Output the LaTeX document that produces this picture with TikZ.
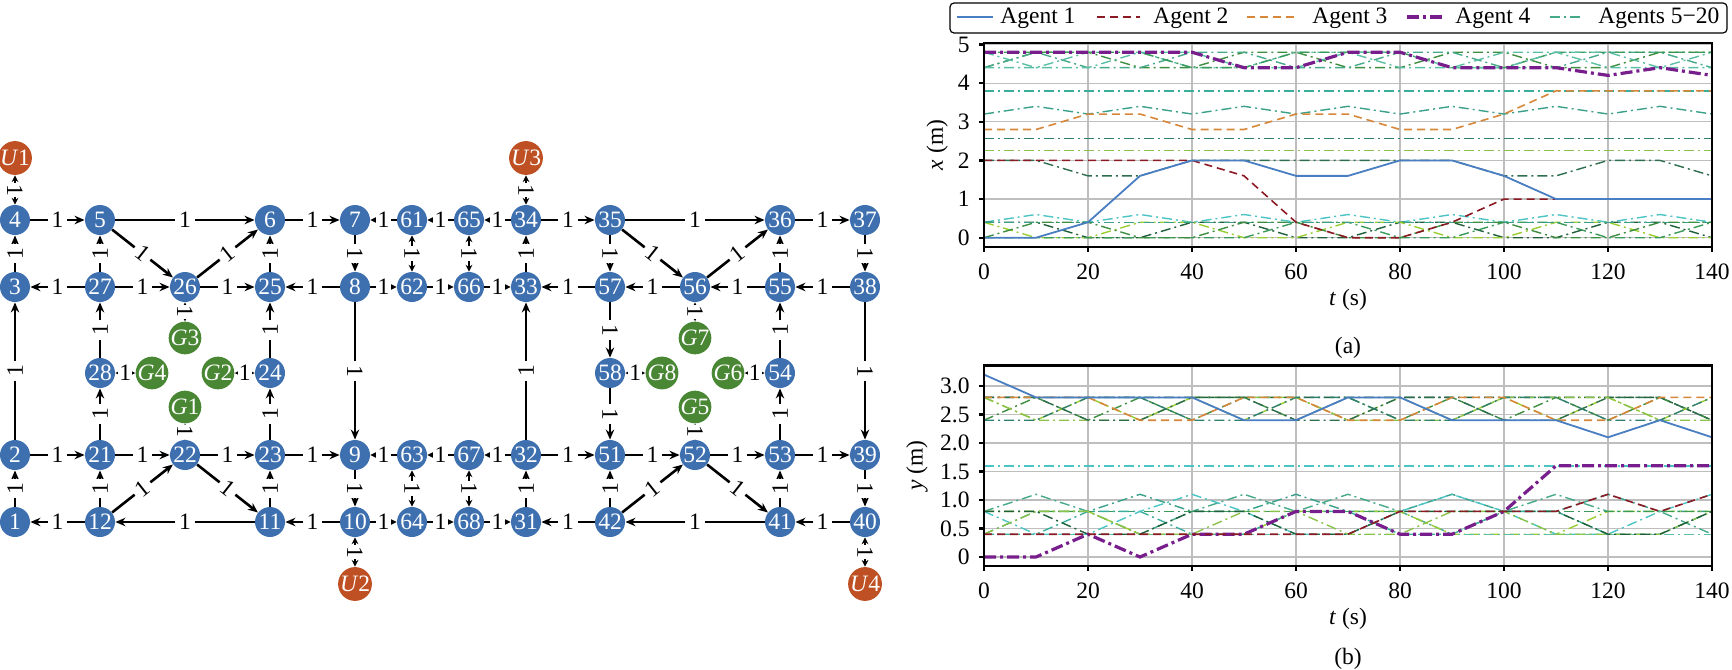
\documentclass[tikz,border=0pt]{standalone}
\usepackage{fontspec}
\setmainfont{Liberation Serif}
\usetikzlibrary{arrows.meta}

\definecolor{cellblue}{RGB}{62,112,176}
\definecolor{goalgreen}{RGB}{74,135,52}
\definecolor{doorred}{RGB}{190,80,35}
\definecolor{ag1}{RGB}{74,126,194}
\definecolor{ag2}{RGB}{140,26,36}
\definecolor{ag3}{RGB}{214,135,58}
\definecolor{ag4}{RGB}{120,30,140}
\definecolor{gA}{RGB}{62,142,65}
\definecolor{gB}{RGB}{69,169,138}
\definecolor{gC}{RGB}{91,191,166}
\definecolor{gD}{RGB}{76,196,196}
\definecolor{gE}{RGB}{31,95,58}
\definecolor{gF}{RGB}{154,205,50}
\definecolor{gG}{RGB}{58,154,90}
\definecolor{gH}{RGB}{58,160,138}
\definecolor{gI}{RGB}{58,174,154}
\definecolor{gK}{RGB}{47,127,111}
\definecolor{gL}{RGB}{139,195,74}
\definecolor{gM}{RGB}{46,110,78}
\definecolor{gridgray}{RGB}{190,190,190}

% one agent over time, a value every 10 s
\newcommand\agenttrace[3]{\draw[#1] (0,#2) \foreach \v [count=\i] in {#3} { -- (10*\i,\v)};}

\begin{document}
\begin{tikzpicture}[x=0.5pt,y=-0.5pt,font=\fontsize{11.75}{14}\selectfont,
	cell/.style = {circle, fill=cellblue, text=white, minimum size=15pt, inner sep=0pt},
	goal/.style = {cell, fill=goalgreen},
	door/.style = {cell, fill=doorred},
	road/.style = {line width=1.3pt, -{Stealth[length=5pt,width=4.2pt]}},
	lane/.style = {line width=1.3pt, -{Stealth[length=3.4pt,width=3.4pt]}},
	twoway/.style = {line width=1.3pt, {Stealth[length=3.4pt,width=3.4pt]}-{Stealth[length=3.4pt,width=3.4pt]}},
	cost/.style = {midway, sloped, fill=white, inner sep=2pt},
	tight/.style = {cost, inner sep=0.6pt},
	gridline/.style = {gridgray, line width=0.6pt},
	frame/.style = {black, line width=1.1pt},
	a1/.style = {ag1, line width=0.9pt, line join=round},
	a2/.style = {ag2, line width=0.8pt, dash pattern=on 4pt off 2.5pt},
	a3/.style = {ag3, line width=0.8pt, dash pattern=on 4pt off 2.5pt},
	a4/.style = {ag4, line width=1.6pt, dash pattern=on 6pt off 2pt on 1.5pt off 2pt},
	other/.style = {line width=0.7pt, dash pattern=on 5pt off 2pt on 1pt off 2pt}]
\useasboundingbox (0,0) rectangle (1732,669);

% grid of cells
\foreach \n/\x in {4/15,5/100,6/270,7/355,61/412,65/469,34/526,35/610,36/780,37/865}
	\node[cell] (\n) at (\x,220) {\n};
\foreach \n/\x in {3/15,27/100,26/185,25/270,8/355,62/412,66/469,33/526,57/610,56/695,55/780,38/865}
	\node[cell] (\n) at (\x,287) {\n};
\foreach \n/\x in {28/100,24/270,58/610,54/780}
	\node[cell] (\n) at (\x,373) {\n};
\foreach \n/\x in {2/15,21/100,22/185,23/270,9/355,63/412,67/469,32/526,51/610,52/695,53/780,39/865}
	\node[cell] (\n) at (\x,455) {\n};
\foreach \n/\x in {1/15,12/100,11/270,10/355,64/412,68/469,31/526,42/610,41/780,40/865}
	\node[cell] (\n) at (\x,522) {\n};
% goals and exits
\node[goal] (G3) at (185,338) {\textit{G}3};
\node[goal] (G4) at (152,373) {\textit{G}4};
\node[goal] (G2) at (218,373) {\textit{G}2};
\node[goal] (G1) at (185,407) {\textit{G}1};
\node[goal] (G7) at (695,338) {\textit{G}7};
\node[goal] (G8) at (662,373) {\textit{G}8};
\node[goal] (G6) at (728,373) {\textit{G}6};
\node[goal] (G5) at (695,407) {\textit{G}5};
\node[door] (U1) at (15,158) {\textit{U}1};
\node[door] (U3) at (526,158) {\textit{U}3};
\node[door] (U2) at (355,584) {\textit{U}2};
\node[door] (U4) at (865,584) {\textit{U}4};

\foreach \a/\b in {4/5,5/6,6/7,3/4,27/5,25/6,5/26,26/6,27/3,27/26,26/25,8/25,2/3,28/27,24/25,
		21/28,23/24,2/21,21/22,22/23,23/9,1/2,12/21,11/23,12/22,22/11,12/1,11/12,10/11,
		34/35,7/8,33/34,57/33,8/9,32/33,32/51,9/10,31/32,42/31,
		35/36,36/37,35/57,35/56,56/36,55/36,56/57,55/56,38/55,37/38,57/58,54/55,58/51,
		53/54,51/52,52/53,53/39,38/39,42/51,41/53,42/52,52/41,41/42,40/41,39/40}
	\draw[road] (\a) -- node[cost] {1} (\b);
\foreach \a/\b in {61/7,65/61,34/65,8/62,62/66,66/33,63/9,67/63,32/67,10/64,64/68,68/31}
	\draw[lane] (\a) -- node[tight] {1} (\b);
\foreach \a/\b in {U1/4,26/G3,28/G4,G2/24,G1/22,61/62,65/66,63/64,67/68,U3/34,10/U2,
		56/G7,58/G8,G6/54,G5/52,40/U4}
	\draw[twoway] (\a) -- node[tight] {1} (\b);

% legend
\draw[line width=0.6pt, rounded corners=2pt] (950,3) rectangle (1727,33);
\draw[a1] (957,17) -- (993,17);
\node[anchor=base west, inner sep=0pt] at (1000,24) {Agent 1};
\draw[a2] (1097,17) -- (1140,17);
\node[anchor=base west, inner sep=0pt] at (1153,24) {Agent 2};
\draw[a3] (1247,17) -- (1295,17);
\node[anchor=base west, inner sep=0pt] at (1312,24) {Agent 3};
\draw[a4] (1407,17) -- (1442,17);
\node[anchor=base west, inner sep=0pt] at (1455,24) {Agent 4};
\draw[other, gB] (1550,17) -- (1583,17);
\node[anchor=base west, inner sep=0pt] at (1598,24) {Agents 5−20};

% (a) x position
\begin{scope}[xshift=492pt, yshift=-118.85pt, x=2.6pt, y=19.32pt]
	\foreach \t in {0,20,...,140} \draw[gridline] (\t,-0.24) -- (\t,5.04);
	\foreach \v in {0,...,5} \draw[gridline] (0,\v) -- (140,\v);
	\agenttrace{other,gA}{4.4}{4.8,4.8,4.4,4.4,4.8,4.8,4.4,4.4,4.8,4.8,4.4,4.4,4.8,4.8}
	\agenttrace{other,gB}{4.4}{4.8,4.4,4.4,4.8,4.8,4.4,4.4,4.8,4.8,4.4,4.4,4.8,4.8,4.4}
	\agenttrace{other,gC}{4.4}{4.4,4.8,4.8,4.4,4.4,4.8,4.8,4.4,4.4,4.8,4.8,4.4,4.4,4.8}
	\agenttrace{other,gG}{4.8}{4.8,4.8,4.8,4.4,4.4,4.8,4.8,4.8,4.4,4.4,4.8,4.8,4.8,4.8}
	\agenttrace{other,gC}{4.8}{4.4,4.4,4.8,4.8,4.4,4.4,4.8,4.8,4.4,4.4,4.8,4.8,4.4,4.4}
	\draw[other,gI] (0,3.8) -- (140,3.8);
	\agenttrace{other,gH}{3.2}{3.4,3.2,3.4,3.2,3.4,3.2,3.4,3.2,3.4,3.2,3.4,3.2,3.4,3.2}
	\draw[other,gK] (0,2.56) -- (140,2.56);
	\draw[other,gL] (0,2.25) -- (140,2.25);
	\agenttrace{other,gM}{2.0}{2.0,1.6,1.6,2.0,2.0,2.0,2.0,2.0,2.0,1.6,1.6,2.0,2.0,1.6}
	\agenttrace{other,gD}{0.4}{0.6,0.4,0.6,0.4,0.6,0.4,0.6,0.4,0.6,0.4,0.6,0.4,0.6,0.4}
	\agenttrace{other,gE}{0.4}{0.4,0,0,0.4,0.4,0,0,0.4,0.4,0,0,0.4,0.4,0}
	\agenttrace{other,gF}{0.4}{0,0,0.4,0.4,0,0,0.4,0.4,0,0,0.4,0.4,0,0}
	\agenttrace{other,gG}{0}{0,0,0,0,0,0.4,0.4,0,0,0.4,0.4,0,0,0.4}
	\agenttrace{other,gH}{0.4}{0.4,0.4,0.4,0.4,0.4,0.4,0.4,0.4,0.4,0.4,0.4,0.4,0.4,0.4}
	\agenttrace{other,gA}{0}{0.4,0.4,0,0,0.4,0.4,0,0,0.4,0.4,0,0,0.4,0.4}
	\agenttrace{a4}{4.8}{4.8,4.8,4.8,4.8,4.4,4.4,4.8,4.8,4.4,4.4,4.4,4.2,4.4,4.2}
	\agenttrace{a3}{2.8}{2.8,3.2,3.2,2.8,2.8,3.2,3.2,2.8,2.8,3.2,3.8,3.8,3.8,3.8}
	\agenttrace{a2}{2.0}{2.0,2.0,2.0,2.0,1.6,0.4,0,0,0.4,1.0,1.0,1.0,1.0,1.0}
	\agenttrace{a1}{0}{0,0.4,1.6,2.0,2.0,1.6,1.6,2.0,2.0,1.6,1.0,1.0,1.0,1.0}
	\draw[frame] (0,-0.24) rectangle (140,5.04);
	\foreach \v in {0,...,5} {
		\draw[frame] (0,\v) -- ++(-2.5pt,0);
		\node[anchor=east, inner sep=0pt] at ([xshift=-7pt]0,\v) {\v};
	}
	\foreach \t in {0,20,...,140} {
		\draw[frame] (\t,-0.24) -- ++(0,-2.5pt);
		\node[anchor=north, inner sep=0pt] at ([yshift=-8pt]\t,-0.24) {\t};
	}
	\node[rotate=90] at (-9.0,2.4) {\textit{x} (m)};
	\node at (70,-1.61) {\textit{t} (s)};
	\node at (70,-2.85) {(a)};
\end{scope}

% (b) y position
\begin{scope}[xshift=492pt, yshift=-278.5pt, x=2.6pt, y=28.5pt]
	\foreach \t in {0,20,...,140} \draw[gridline] (\t,-0.16) -- (\t,3.36);
	\foreach \v in {0,0.5,...,3.0} \draw[gridline] (0,\v) -- (140,\v);
	\draw[other,gD] (0,1.6) -- (140,1.6);
	\agenttrace{other,gE}{2.8}{2.8,2.8,2.8,2.8,2.8,2.8,2.8,2.8,2.8,2.8,2.8,2.8,2.8,2.4}
	\agenttrace{other,gA}{2.4}{2.8,2.4,2.8,2.4,2.8,2.4,2.8,2.4,2.8,2.4,2.8,2.4,2.8,2.4}
	\agenttrace{other,gF}{2.8}{2.4,2.8,2.4,2.8,2.4,2.8,2.4,2.8,2.4,2.8,2.4,2.8,2.4,2.8}
	\agenttrace{other,gL}{2.8}{2.4,2.4,2.4,2.8,2.8,2.8,2.4,2.4,2.4,2.8,2.8,2.8,2.4,2.4}
	\agenttrace{other,gM}{2.8}{2.8,2.4,2.4,2.8,2.8,2.4,2.4,2.8,2.8,2.4,2.4,2.8,2.8,2.4}
	\agenttrace{other,gK}{2.4}{2.4,2.8,2.8,2.4,2.4,2.8,2.8,2.4,2.4,2.8,2.8,2.4,2.4,2.8}
	\agenttrace{other,gH}{0.4}{0.8,0.8,1.1,0.8,0.8,1.1,0.8,0.8,1.1,0.8,0.8,1.1,0.8,0.8}
	\agenttrace{other,gB}{0.8}{1.1,0.8,0.4,0.8,1.1,0.8,1.1,0.8,0.4,0.8,1.1,0.8,0.8,0.4}
	\agenttrace{other,gF}{0.8}{0.8,0.8,0.4,0.4,0.4,0.8,0.8,0.8,0.4,0.4,0.4,0.8,0.8,0.8}
	\draw[other,gC] (0,0.4) -- (140,0.4);
	\draw[other,gG] (0,0.8) -- (140,0.8);
	\agenttrace{other,gI}{0.4}{0.4,0.8,0.8,0.4,0.4,0.8,0.8,0.4,0.4,0.8,0.8,0.4,0.4,0.8}
	\agenttrace{other,gD}{0.8}{0.4,0.4,0.8,1.1,0.8,0.4,0.4,0.8,1.1,0.8,0.4,0.4,0.8,1.1}
	\agenttrace{other,gL}{0.4}{0.8,0.8,0.4,0.4,0.8,0.8,0.4,0.4,0.8,0.8,0.4,0.4,0.4,0.8}
	\agenttrace{other,gE}{0.8}{0.8,0.4,0.4,0.8,0.8,0.4,0.4,0.8,0.8,0.8,0.8,0.4,0.4,0.8}
	\agenttrace{a4}{0}{0,0.4,0,0.4,0.4,0.8,0.8,0.4,0.4,0.8,1.6,1.6,1.6,1.6}
	\agenttrace{a3}{2.8}{2.8,2.8,2.4,2.4,2.8,2.8,2.4,2.4,2.8,2.8,2.4,2.4,2.8,2.8}
	\agenttrace{a2}{0.4}{0.4,0.4,0.4,0.4,0.4,0.4,0.4,0.8,0.8,0.8,0.8,1.1,0.8,1.1}
	\agenttrace{a1}{3.2}{2.8,2.8,2.8,2.8,2.4,2.4,2.8,2.8,2.4,2.4,2.4,2.1,2.4,2.1}
	\draw[frame] (0,-0.16) rectangle (140,3.36);
	\foreach \v/\s in {0/0,0.5/0.5,1/1.0,1.5/1.5,2/2.0,2.5/2.5,3/3.0} {
		\draw[frame] (0,\v) -- ++(-2.5pt,0);
		\node[anchor=east, inner sep=0pt] at ([xshift=-7pt]0,\v) {\s};
	}
	\foreach \t in {0,20,...,140} {
		\draw[frame] (\t,-0.16) -- ++(0,-2.5pt);
		\node[anchor=north, inner sep=0pt] at ([yshift=-8pt]\t,-0.16) {\t};
	}
	\node[rotate=90] at (-12.9,1.6) {\textit{y} (m)};
	\node at (70,-1.09) {\textit{t} (s)};
	\node at (70,-1.78) {(b)};
\end{scope}
\end{tikzpicture}
\end{document}
